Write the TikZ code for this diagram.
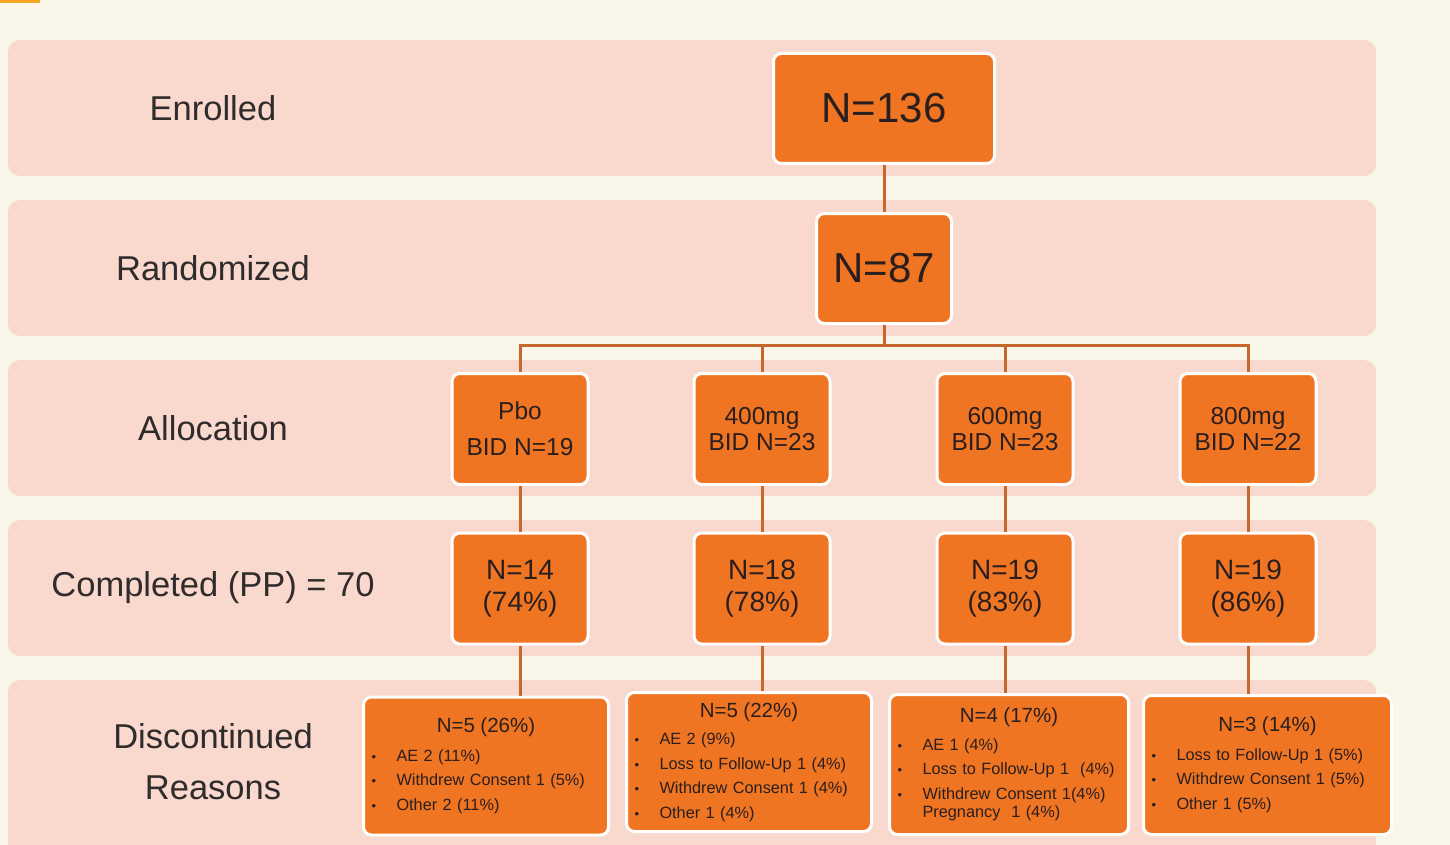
\documentclass[tikz,border=0pt]{standalone}
\usepackage{fontspec}
\setmainfont{Liberation Sans}
\usetikzlibrary{positioning}
\definecolor{cream}{RGB}{250,246,234}
\definecolor{band}{RGB}{249,216,206}
\definecolor{boxorange}{RGB}{239,117,34}
\definecolor{linkbrown}{RGB}{198,104,44}
\definecolor{boxtext}{RGB}{42,30,30}
\definecolor{labeltext}{RGB}{48,44,44}
\definecolor{tabfill}{RGB}{245,166,35}

\newcommand{\rsn}{\makebox[25pt][l]{\fontsize{13}{13}\selectfont\textbullet}}
\newcommand{\rhead}[1]{\makebox[\hsize][c]{\fontsize{20.5}{20}\selectfont #1}}

\tikzset{
  stage/.style={fill=band, rounded corners=12pt},
  stagelabel/.style={text=labeltext, font=\fontsize{34.5}{40}\selectfont, align=center},
  countbox/.style={draw=white, line width=3pt, fill=boxorange, rounded corners=8pt,
    text=boxtext, align=center},
  armbox/.style={countbox, minimum width=136pt, minimum height=111pt},
  reasonbox/.style={countbox, align=left, inner xsep=8pt,
    font=\fontsize{16.3}{24.5}\selectfont},
  link/.style={draw=linkbrown, line width=3pt},
}

\begin{document}
\begin{tikzpicture}[x=1pt, y=-1pt]
    \useasboundingbox (0,0) rectangle (1450,845);
    \fill[cream] (0,0) rectangle (1450,845);
    \fill[tabfill] (0,0) rectangle (40,3);

    % stage bands
    \foreach \top in {40,200,360,520}
        \fill[stage] (8,\top) rectangle (1376,\top+136);
    \fill[stage] (8,680) rectangle (1376,880);

    % stage names
    \node[stagelabel] (enrolled) at (213,108) {Enrolled};
    \node[stagelabel] (randomized) at (213,268) {Randomized};
    \node[stagelabel] (allocation) at (213,428) {Allocation};
    \node[stagelabel] (completed) at (213,588) {Completed (PP) = 70};
    \node[stagelabel] (discontinued) at (213,762) {Discontinued\\[11pt]Reasons};

    % counts
    \node[countbox, minimum width=221pt, minimum height=110pt,
        font=\fontsize{42}{48}\selectfont] (enrol) at (884,108.5) {N=136};
    \node[countbox, minimum width=135pt, minimum height=110pt,
        font=\fontsize{42}{48}\selectfont] (rand) at (884,268.5) {N=87};

    \node[armbox, font=\fontsize{24.5}{26}\selectfont] (pbo) at (520,429) {Pbo\\[10pt]BID N=19};
    \node[armbox, font=\fontsize{24.5}{26}\selectfont] (d400) at (762,429) {400mg\\BID N=23};
    \node[armbox, font=\fontsize{24.5}{26}\selectfont] (d600) at (1005,429) {600mg\\BID N=23};
    \node[armbox, font=\fontsize{24.5}{26}\selectfont] (d800) at (1248,429) {800mg\\BID N=22};

    \node[armbox, font=\fontsize{28}{32}\selectfont] (pbodone) at (520,588.5) {N=14\\(74\%)};
    \node[armbox, font=\fontsize{28}{32}\selectfont] (d400done) at (762,588.5) {N=18\\(78\%)};
    \node[armbox, font=\fontsize{28}{32}\selectfont] (d600done) at (1005,588.5) {N=19\\(83\%)};
    \node[armbox, font=\fontsize{28}{32}\selectfont] (d800done) at (1248,588.5) {N=19\\(86\%)};

    % reasons for stopping
    \node[reasonbox, text width=229pt, minimum height=138pt] (pbowhy) at (486,766)
        {\rhead{N=5 (26\%)}\\[4pt]
         \rsn AE 2 (11\%)\\
         \rsn Withdrew Consent 1 (5\%)\\
         \rsn Other 2 (11\%)};
    \node[reasonbox, text width=229pt, minimum height=139pt] (d400why) at (749,762)
        {\rhead{N=5 (22\%)}\\[3pt]
         \rsn AE 2 (9\%)\\
         \rsn Loss to Follow-Up 1 (4\%)\\
         \rsn Withdrew Consent 1 (4\%)\\
         \rsn Other 1 (4\%)};
    \node[reasonbox, text width=223pt, minimum height=140pt] (d600why) at (1009,764.5)
        {\rhead{N=4 (17\%)}\\[3pt]
         \rsn AE 1 (4\%)\\
         \rsn Loss to Follow-Up 1\ \ (4\%)\\
         \rsn Withdrew Consent 1(4\%)\\[-6.5pt]
         \hspace*{25pt}Pregnancy\ \ 1 (4\%)};
    \node[reasonbox, text width=232pt, minimum height=139pt] (d800why) at (1267.5,765)
        {\rhead{N=3 (14\%)}\\[4pt]
         \rsn Loss to Follow-Up 1 (5\%)\\
         \rsn Withdrew Consent 1 (5\%)\\
         \rsn Other 1 (5\%)};

    % connectors
    \coordinate (split) at (884,345);
    \draw[link] (enrol) -- (rand);
    \draw[link] (rand.south) -- (split);
    \foreach \arm in {pbo,d400,d600,d800} {
        \draw[link] (split) -| (\arm.north);
        \draw[link] (\arm) -- (\arm done);
        \draw[link] (\arm done.south) -- (\arm done.south |- \arm why.north);
    }
\end{tikzpicture}
\end{document}
